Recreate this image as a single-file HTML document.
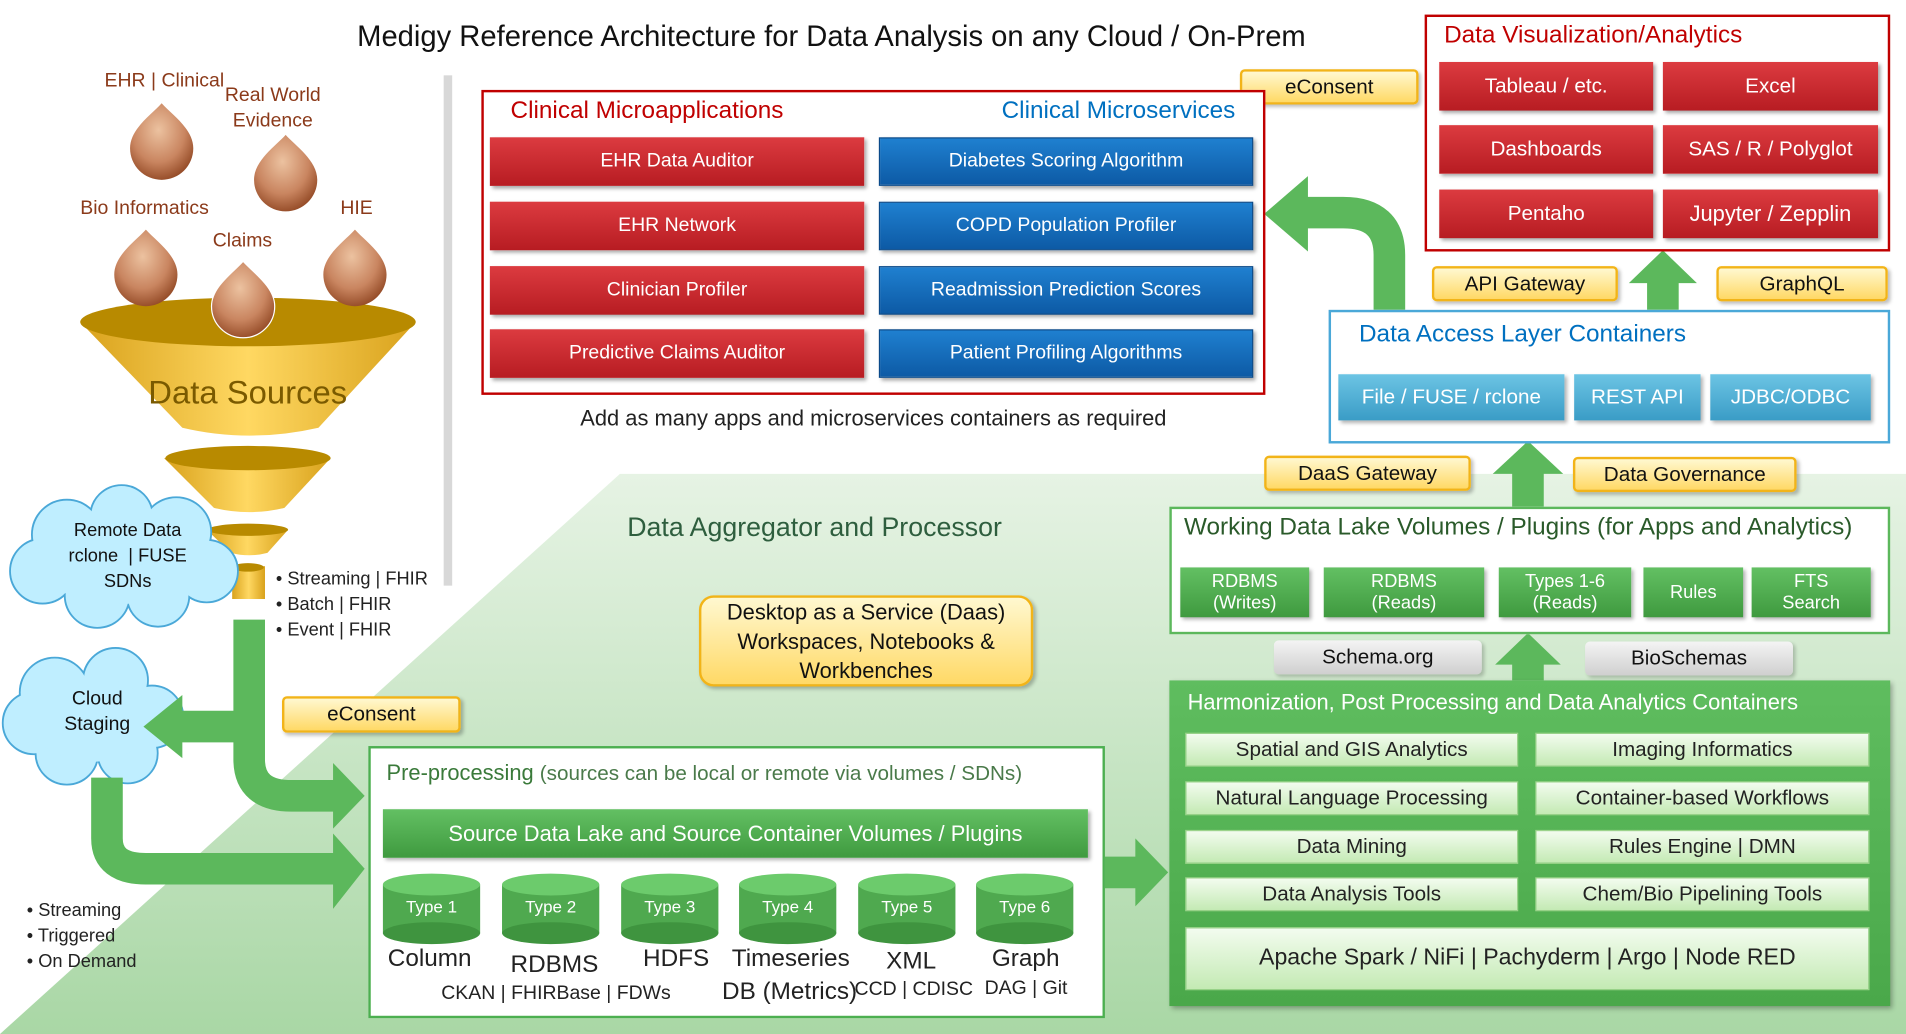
<!DOCTYPE html>
<html><head><meta charset="utf-8"><style>
html,body{margin:0;padding:0;background:#fff;overflow:hidden;width:1906px;height:1034px}
#w{position:absolute;left:0;top:0;width:1568px;height:851px;transform:scale(1.21556,1.21504);transform-origin:0 0;font-family:"Liberation Sans",sans-serif}
.a{position:absolute;box-sizing:border-box}
.t{position:absolute;white-space:nowrap}
.red{background:linear-gradient(#dc3b40,#b71c22);color:#fff;font-size:16px;display:flex;align-items:center;justify-content:center;box-shadow:2px 2px 3px rgba(0,0,0,.35)}
.blu{background:linear-gradient(#1f80d0,#0d5aa5);color:#fff;font-size:16px;display:flex;align-items:center;justify-content:center;border:1px solid #0a4a8a;box-shadow:2px 2px 3px rgba(0,0,0,.35)}
.yel{background:linear-gradient(#fff8d0,#ffd966);border:2px solid #f2b418;border-radius:4px;color:#111;font-size:17px;display:flex;align-items:center;justify-content:center;box-shadow:2px 2px 3px rgba(0,0,0,.25)}
.grey{background:linear-gradient(#f4f4f4,#cfcfcf);border-radius:4px;color:#111;font-size:17px;display:flex;align-items:center;justify-content:center;box-shadow:2px 2px 3px rgba(0,0,0,.2)}
.tea{background:linear-gradient(#6cc4e4,#3a9cc6);color:#fff;font-size:17px;display:flex;align-items:center;justify-content:center;box-shadow:2px 2px 3px rgba(0,0,0,.3)}
.gr{background:linear-gradient(#63c063,#3f9a3f);color:#fff;font-size:15px;line-height:18px;text-align:center;display:flex;align-items:center;justify-content:center;box-shadow:2px 2px 3px rgba(0,0,0,.3)}
.lg{background:linear-gradient(#f3fcef,#c4eab4);border:1px solid #9bd38b;color:#222;font-size:17px;display:flex;align-items:center;justify-content:center}
</style></head><body><div id="w">
<svg class="a" style="left:0;top:0" width="1568" height="851">
<defs>
<linearGradient id="bg" x1="0" y1="0" x2="0" y2="1"><stop offset="0" stop-color="#e6f3e4"/><stop offset="1" stop-color="#a9d7a5"/></linearGradient>
<radialGradient id="dr" cx="0.45" cy="0.35" r="0.7"><stop offset="0" stop-color="#ecc2a0"/><stop offset="0.6" stop-color="#c98560"/><stop offset="1" stop-color="#8e4420"/></radialGradient>
<linearGradient id="gd" x1="0" y1="0" x2="1" y2="0"><stop offset="0" stop-color="#d9a21c"/><stop offset="0.5" stop-color="#ffd862"/><stop offset="1" stop-color="#d9a21c"/></linearGradient>
</defs>
<polygon points="0,851 510,390 1568,390 1568,851" fill="url(#bg)"/>
<rect x="365" y="62" width="7" height="420" fill="#d8d8d8"/>
<!-- funnel -->
<path d="M66,265 L150,352 Q205,365 262,352 L342,265 Z" fill="url(#gd)"/>
<ellipse cx="204" cy="265" rx="138" ry="20" fill="#b88a00"/>
<path d="M135,377 L176,418 Q205,425 234,418 L272,377 Z" fill="url(#gd)"/>
<ellipse cx="204" cy="377" rx="68" ry="10" fill="#b88a00"/>
<path d="M170,436 L190,455 Q205,459 220,455 L237,436 Z" fill="url(#gd)"/>
<ellipse cx="204" cy="436" rx="33" ry="5" fill="#b88a00"/>
<rect x="191" y="466" width="27" height="27" fill="url(#gd)"/>
<ellipse cx="204" cy="467" rx="13" ry="3.5" fill="#b88a00"/>
<!-- drops -->
<g fill="url(#dr)">
<path transform="translate(133,118)" d="M0,-33 C8,-24 26,-12 26,4 A26,26 0 1 1 -26,4 C-26,-12 -8,-24 0,-33 Z"/>
<path transform="translate(235,144)" d="M0,-33 C8,-24 26,-12 26,4 A26,26 0 1 1 -26,4 C-26,-12 -8,-24 0,-33 Z"/>
<path transform="translate(120,222)" d="M0,-33 C8,-24 26,-12 26,4 A26,26 0 1 1 -26,4 C-26,-12 -8,-24 0,-33 Z"/>
<path transform="translate(292,222)" d="M0,-33 C8,-24 26,-12 26,4 A26,26 0 1 1 -26,4 C-26,-12 -8,-24 0,-33 Z"/>
<path transform="translate(200,248)" d="M0,-33 C8,-24 26,-12 26,4 A26,26 0 1 1 -26,4 C-26,-12 -8,-24 0,-33 Z" stroke="#fff" stroke-width="1"/>
</g>
<!-- clouds -->
<g stroke="#4aa8d8" stroke-width="3" fill="#bfeeff">
<circle cx="55" cy="440" r="28"/><circle cx="100" cy="425" r="25"/><circle cx="145" cy="438" r="28"/><circle cx="170" cy="470" r="25"/><circle cx="130" cy="490" r="25"/><circle cx="80" cy="490" r="26"/><circle cx="35" cy="470" r="26"/>
<circle cx="45" cy="570" r="28"/><circle cx="95" cy="560" r="26"/><circle cx="125" cy="590" r="25"/><circle cx="105" cy="620" r="24"/><circle cx="55" cy="620" r="25"/><circle cx="28" cy="595" r="25"/>
</g>
<g fill="#bfeeff">
<circle cx="55" cy="440" r="28"/><circle cx="100" cy="425" r="25"/><circle cx="145" cy="438" r="28"/><circle cx="170" cy="470" r="25"/><circle cx="130" cy="490" r="25"/><circle cx="80" cy="490" r="26"/><circle cx="35" cy="470" r="26"/><ellipse cx="100" cy="462" rx="70" ry="35"/>
<circle cx="45" cy="570" r="28"/><circle cx="95" cy="560" r="26"/><circle cx="125" cy="590" r="25"/><circle cx="105" cy="620" r="24"/><circle cx="55" cy="620" r="25"/><circle cx="28" cy="595" r="25"/><ellipse cx="75" cy="592" rx="50" ry="35"/>
</g>
<!-- green arrows -->
<g fill="none" stroke="#5cb85c" stroke-width="26">
<path d="M205,510 L205,625 Q205,655 240,655 L276,655"/>
<path d="M205,598 L148,598"/>
<path d="M88,640 L88,690 Q88,715 120,715 L276,715"/>
<path d="M1143,255 L1143,210 Q1143,175 1105,175 L1072,175"/>
<path d="M1257,417 L1257,385"/>
<path d="M1257,560 L1257,540"/>
<path d="M1368,255 L1368,232"/>
<path d="M906,718 L938,718"/>
</g>
<g fill="#5cb85c">
<polygon points="274,628 300,655 274,682"/>
<polygon points="150,572 118,598 150,624"/>
<polygon points="274,686 300,715 274,748"/>
<polygon points="1076,145 1040,176 1076,207"/>
<polygon points="1228,390 1257,363 1286,390"/>
<polygon points="1230,547 1257,521 1284,547"/>
<polygon points="1340,233 1368,206 1396,233"/>
<polygon points="934,690 961,718 934,746"/>
</g>
<!-- cylinders -->
<g>
<g transform="translate(355,0)"><rect x="-40" y="728" width="80" height="40" fill="#4fa94f"/><ellipse cx="0" cy="768" rx="40" ry="9" fill="#3f943f"/><ellipse cx="0" cy="728" rx="40" ry="9" fill="#6ccb6c"/></g>
<g transform="translate(453,0)"><rect x="-40" y="728" width="80" height="40" fill="#4fa94f"/><ellipse cx="0" cy="768" rx="40" ry="9" fill="#3f943f"/><ellipse cx="0" cy="728" rx="40" ry="9" fill="#6ccb6c"/></g>
<g transform="translate(551,0)"><rect x="-40" y="728" width="80" height="40" fill="#4fa94f"/><ellipse cx="0" cy="768" rx="40" ry="9" fill="#3f943f"/><ellipse cx="0" cy="728" rx="40" ry="9" fill="#6ccb6c"/></g>
<g transform="translate(648,0)"><rect x="-40" y="728" width="80" height="40" fill="#4fa94f"/><ellipse cx="0" cy="768" rx="40" ry="9" fill="#3f943f"/><ellipse cx="0" cy="728" rx="40" ry="9" fill="#6ccb6c"/></g>
<g transform="translate(746,0)"><rect x="-40" y="728" width="80" height="40" fill="#4fa94f"/><ellipse cx="0" cy="768" rx="40" ry="9" fill="#3f943f"/><ellipse cx="0" cy="728" rx="40" ry="9" fill="#6ccb6c"/></g>
<g transform="translate(843,0)"><rect x="-40" y="728" width="80" height="40" fill="#4fa94f"/><ellipse cx="0" cy="768" rx="40" ry="9" fill="#3f943f"/><ellipse cx="0" cy="728" rx="40" ry="9" fill="#6ccb6c"/></g>
</g>
</svg>

<div class="t" style="left:0;width:1368px;top:17px;text-align:center;font-size:24px;color:#111">Medigy Reference Architecture for Data Analysis on any Cloud / On-Prem</div>

<div class="t" style="left:86px;top:58px;font-size:16px;color:#8b3a1a">EHR | Clinical</div>
<div class="t" style="left:185px;top:68px;font-size:16px;color:#8b3a1a;text-align:center;line-height:21px">Real World<br>Evidence</div>
<div class="t" style="left:66px;top:163px;font-size:16px;color:#8b3a1a">Bio Informatics</div>
<div class="t" style="left:175px;top:190px;font-size:16px;color:#8b3a1a">Claims</div>
<div class="t" style="left:280px;top:163px;font-size:16px;color:#8b3a1a">HIE</div>
<div class="t" style="left:122px;top:308px;font-size:27px;color:#7a5a00">Data Sources</div>

<div class="t" style="left:40px;width:130px;top:426px;text-align:center;font-size:15px;line-height:21px;color:#111">Remote Data<br>rclone &nbsp;| FUSE<br>SDNs</div>
<div class="t" style="left:30px;width:100px;top:565px;text-align:center;font-size:16px;line-height:21px;color:#111">Cloud<br>Staging</div>
<div class="t" style="left:227px;top:466px;font-size:15px;line-height:21px;color:#222">• Streaming | FHIR<br>• Batch | FHIR<br>• Event | FHIR</div>
<div class="t" style="left:22px;top:739px;font-size:15px;line-height:21px;color:#222">• Streaming<br>• Triggered<br>• On Demand</div>

<div class="a yel" style="left:232px;top:573px;width:147px;height:30px">eConsent</div>
<div class="a yel" style="left:1020px;top:57px;width:147px;height:29px">eConsent</div>

<!-- clinical box -->
<div class="a" style="left:396px;top:74px;width:645px;height:251px;border:2px solid #c00000;background:#fff"></div>
<div class="t" style="left:420px;top:80px;font-size:20px;color:#c00000">Clinical Microapplications</div>
<div class="t" style="left:824px;top:80px;font-size:20px;color:#0070c0">Clinical Microservices</div>
<div class="a red" style="left:403px;top:113px;width:308px;height:40px">EHR Data Auditor</div>
<div class="a red" style="left:403px;top:166px;width:308px;height:40px">EHR Network</div>
<div class="a red" style="left:403px;top:219px;width:308px;height:40px">Clinician Profiler</div>
<div class="a red" style="left:403px;top:271px;width:308px;height:40px">Predictive Claims Auditor</div>
<div class="a blu" style="left:723px;top:113px;width:308px;height:40px">Diabetes Scoring Algorithm</div>
<div class="a blu" style="left:723px;top:166px;width:308px;height:40px">COPD Population Profiler</div>
<div class="a blu" style="left:723px;top:219px;width:308px;height:40px">Readmission Prediction Scores</div>
<div class="a blu" style="left:723px;top:271px;width:308px;height:40px">Patient Profiling Algorithms</div>
<div class="t" style="left:396px;width:645px;top:334px;text-align:center;font-size:18px;color:#222">Add as many apps and microservices containers as required</div>

<!-- viz -->
<div class="a" style="left:1172px;top:12px;width:383px;height:195px;border:2px solid #c00000;background:#fff"></div>
<div class="t" style="left:1188px;top:18px;font-size:20px;color:#c00000">Data Visualization/Analytics</div>
<div class="a red" style="left:1184px;top:51px;width:176px;height:40px;font-size:17px">Tableau / etc.</div>
<div class="a red" style="left:1368px;top:51px;width:177px;height:40px;font-size:17px">Excel</div>
<div class="a red" style="left:1184px;top:103px;width:176px;height:40px;font-size:17px">Dashboards</div>
<div class="a red" style="left:1368px;top:103px;width:177px;height:40px;font-size:17px">SAS / R / Polyglot</div>
<div class="a red" style="left:1184px;top:156px;width:176px;height:40px;font-size:17px">Pentaho</div>
<div class="a red" style="left:1368px;top:156px;width:177px;height:40px;font-size:18px">Jupyter / Zepplin</div>

<div class="a yel" style="left:1178px;top:219px;width:153px;height:29px">API Gateway</div>
<div class="a yel" style="left:1412px;top:219px;width:141px;height:29px">GraphQL</div>

<!-- DAL -->
<div class="a" style="left:1093px;top:255px;width:462px;height:110px;border:2px solid #4aa8d8;background:#fff"></div>
<div class="t" style="left:1118px;top:264px;font-size:20px;color:#0070c0">Data Access Layer Containers</div>
<div class="a tea" style="left:1101px;top:308px;width:186px;height:38px">File / FUSE / rclone</div>
<div class="a tea" style="left:1295px;top:308px;width:104px;height:38px">REST API</div>
<div class="a tea" style="left:1407px;top:308px;width:132px;height:38px">JDBC/ODBC</div>

<div class="a yel" style="left:1040px;top:375px;width:170px;height:29px">DaaS Gateway</div>
<div class="a yel" style="left:1294px;top:376px;width:184px;height:29px">Data Governance</div>

<!-- working lake -->
<div class="a" style="left:962px;top:417px;width:593px;height:105px;border:2px solid #5cb85c;background:#fff"></div>
<div class="t" style="left:974px;top:423px;font-size:20px;color:#2a5a2a">Working Data Lake Volumes / Plugins (for Apps and Analytics)</div>
<div class="a gr" style="left:971px;top:467px;width:106px;height:41px">RDBMS<br>(Writes)</div>
<div class="a gr" style="left:1089px;top:467px;width:132px;height:41px">RDBMS<br>(Reads)</div>
<div class="a gr" style="left:1233px;top:467px;width:109px;height:41px">Types 1-6<br>(Reads)</div>
<div class="a gr" style="left:1352px;top:467px;width:82px;height:41px">Rules</div>
<div class="a gr" style="left:1441px;top:467px;width:98px;height:41px">FTS<br>Search</div>

<div class="a grey" style="left:1048px;top:527px;width:171px;height:28px">Schema.org</div>
<div class="a grey" style="left:1304px;top:528px;width:171px;height:28px">BioSchemas</div>

<!-- harmonization -->
<div class="a" style="left:962px;top:560px;width:593px;height:268px;background:linear-gradient(#5fbd5f,#4aa84a);box-shadow:2px 2px 4px rgba(0,0,0,.3)"></div>
<div class="t" style="left:977px;top:568px;font-size:18px;color:#fff">Harmonization, Post Processing and Data Analytics Containers</div>
<div class="a lg" style="left:975px;top:603px;width:274px;height:28px">Spatial and GIS Analytics</div>
<div class="a lg" style="left:1263px;top:603px;width:275px;height:28px">Imaging Informatics</div>
<div class="a lg" style="left:975px;top:643px;width:274px;height:28px">Natural Language Processing</div>
<div class="a lg" style="left:1263px;top:643px;width:275px;height:28px">Container-based Workflows</div>
<div class="a lg" style="left:975px;top:683px;width:274px;height:28px">Data Mining</div>
<div class="a lg" style="left:1263px;top:683px;width:275px;height:28px">Rules Engine | DMN</div>
<div class="a lg" style="left:975px;top:722px;width:274px;height:28px">Data Analysis Tools</div>
<div class="a lg" style="left:1263px;top:722px;width:275px;height:28px">Chem/Bio Pipelining Tools</div>
<div class="a lg" style="left:975px;top:763px;width:563px;height:52px;font-size:19px">Apache Spark / NiFi | Pachyderm | Argo | Node RED</div>

<div class="t" style="left:516px;top:421px;font-size:22px;color:#2e5e3e">Data Aggregator and Processor</div>
<div class="a yel" style="left:575px;top:490px;width:275px;height:75px;border-radius:12px;font-size:18px;line-height:24px;text-align:center">Desktop as a Service (Daas)<br>Workspaces, Notebooks &amp;<br>Workbenches</div>

<!-- preprocessing -->
<div class="a" style="left:303px;top:614px;width:606px;height:224px;border:2px solid #4caf50;background:#fff"></div>
<svg class="a" style="left:303px;top:614px" width="606" height="224">
<g transform="translate(-303,-614)">
<g transform="translate(355,0)"><rect x="-40" y="728" width="80" height="40" fill="#4fa94f"/><ellipse cx="0" cy="768" rx="40" ry="9" fill="#3f943f"/><ellipse cx="0" cy="728" rx="40" ry="9" fill="#6ccb6c"/></g>
<g transform="translate(453,0)"><rect x="-40" y="728" width="80" height="40" fill="#4fa94f"/><ellipse cx="0" cy="768" rx="40" ry="9" fill="#3f943f"/><ellipse cx="0" cy="728" rx="40" ry="9" fill="#6ccb6c"/></g>
<g transform="translate(551,0)"><rect x="-40" y="728" width="80" height="40" fill="#4fa94f"/><ellipse cx="0" cy="768" rx="40" ry="9" fill="#3f943f"/><ellipse cx="0" cy="728" rx="40" ry="9" fill="#6ccb6c"/></g>
<g transform="translate(648,0)"><rect x="-40" y="728" width="80" height="40" fill="#4fa94f"/><ellipse cx="0" cy="768" rx="40" ry="9" fill="#3f943f"/><ellipse cx="0" cy="728" rx="40" ry="9" fill="#6ccb6c"/></g>
<g transform="translate(746,0)"><rect x="-40" y="728" width="80" height="40" fill="#4fa94f"/><ellipse cx="0" cy="768" rx="40" ry="9" fill="#3f943f"/><ellipse cx="0" cy="728" rx="40" ry="9" fill="#6ccb6c"/></g>
<g transform="translate(843,0)"><rect x="-40" y="728" width="80" height="40" fill="#4fa94f"/><ellipse cx="0" cy="768" rx="40" ry="9" fill="#3f943f"/><ellipse cx="0" cy="728" rx="40" ry="9" fill="#6ccb6c"/></g>
</g></svg>
<div class="t" style="left:318px;top:626px;font-size:18px;color:#3a7a3a">Pre-processing <span style="color:#4a7a4a;font-size:17px">(sources can be local or remote via volumes / SDNs)</span></div>
<div class="a gr" style="left:315px;top:666px;width:580px;height:40px;font-size:18px">Source Data Lake and Source Container Volumes / Plugins</div>
<div class="t" style="left:315px;width:80px;top:738px;text-align:center;font-size:14px;color:#fff">Type 1</div>
<div class="t" style="left:413px;width:80px;top:738px;text-align:center;font-size:14px;color:#fff">Type 2</div>
<div class="t" style="left:511px;width:80px;top:738px;text-align:center;font-size:14px;color:#fff">Type 3</div>
<div class="t" style="left:608px;width:80px;top:738px;text-align:center;font-size:14px;color:#fff">Type 4</div>
<div class="t" style="left:706px;width:80px;top:738px;text-align:center;font-size:14px;color:#fff">Type 5</div>
<div class="t" style="left:803px;width:80px;top:738px;text-align:center;font-size:14px;color:#fff">Type 6</div>
<div class="t" style="left:319px;top:778px;font-size:20px;color:#222">Column</div>
<div class="t" style="left:420px;top:783px;font-size:20px;color:#222">RDBMS</div>
<div class="t" style="left:529px;top:778px;font-size:20px;color:#222">HDFS</div>
<div class="t" style="left:602px;top:778px;font-size:20px;color:#222">Timeseries</div>
<div class="t" style="left:594px;top:805px;font-size:20px;color:#222">DB (Metrics)</div>
<div class="t" style="left:729px;top:780px;font-size:20px;color:#222">XML</div>
<div class="t" style="left:816px;top:778px;font-size:20px;color:#222">Graph</div>
<div class="t" style="left:363px;top:809px;font-size:16px;color:#222">CKAN | FHIRBase | FDWs</div>
<div class="t" style="left:703px;top:806px;font-size:16px;color:#222">CCD | CDISC</div>
<div class="t" style="left:810px;top:805px;font-size:16px;color:#222">DAG | Git</div>
</div></body></html>
